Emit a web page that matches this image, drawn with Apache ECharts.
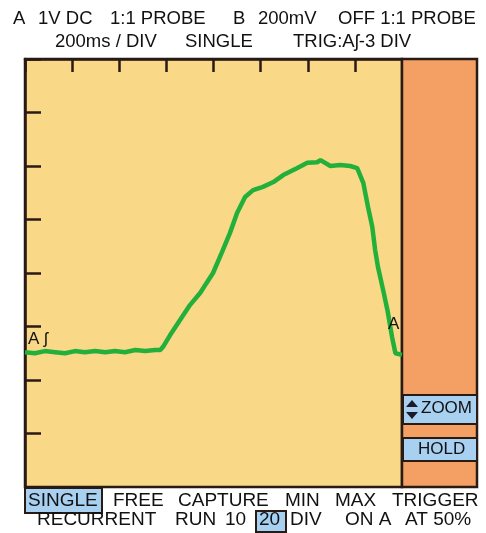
<!DOCTYPE html>
<html>
<head>
<meta charset="utf-8">
<script src="https://cdn.jsdelivr.net/npm/echarts@6/dist/echarts.min.js"></script>
<style>
  html, body { margin: 0; padding: 0; background: #fff; }
  #scope { width: 486px; height: 533px; }
</style>
</head>
<body>
<div id="scope"></div>
<script>
// time in divisions (200 ms / DIV), voltage in divisions
const traceX = [0, 0.21, 0.42, 0.64, 0.85, 1.06, 1.27, 1.49, 1.70, 1.91, 2.12, 2.34, 2.55, 2.76, 2.87,
  2.93, 3.08, 3.29, 3.50, 3.72, 3.85, 3.99, 4.18, 4.35, 4.50, 4.67, 4.84, 5.05, 5.27, 5.48, 5.77,
  5.99, 6.20, 6.27, 6.48, 6.69, 6.90, 7.05, 7.18, 7.28, 7.37, 7.43, 7.49, 7.60, 7.69, 7.79, 7.86, 8.0];
const traceY = [-1.48, -1.50, -1.46, -1.48, -1.50, -1.46, -1.48, -1.46, -1.48, -1.46, -1.48, -1.44, -1.46, -1.44, -1.44,
  -1.38, -1.16, -0.88, -0.60, -0.37, -0.19, 0, 0.39, 0.75, 1.12, 1.42, 1.55, 1.61, 1.70, 1.83, 1.96,
  2.06, 2.07, 2.11, 2.00, 2.02, 2.00, 1.96, 1.68, 1.23, 0.86, 0.43, 0.11, -0.32, -0.69, -1.20, -1.50, -1.53];

const headerRow1 = [['A', 13], ['1V DC', 38], ['1:1 PROBE', 110], ['B', 233], ['200mV', 258], ['OFF 1:1 PROBE', 338]];
const headerRow2 = [['200ms / DIV', 55], ['SINGLE', 185], ['TRIG:A\u0283-3 DIV', 293]];
const footRow1 = [['SINGLE', 28], ['FREE', 113], ['CAPTURE', 178], ['MIN', 285], ['MAX', 335], ['TRIGGER', 392]];
const footRow2 = [['RECURRENT', 37], ['RUN', 175], ['10', 225], ['20', 259], ['DIV', 290], ['ON A', 345], ['AT 50%', 405]];

const dark = '#2a1a14';
const yellow = '#f9d888';
const orange = '#f4a064';
const blue = '#a8d0f0';
const font = '"Liberation Sans", Arial, sans-serif';

const chart = echarts.init(document.getElementById('scope'), null, { renderer: 'canvas' });

function words(list, y, size) {
    return list.map(([t, x]) => ({
        type: 'text',
        left: x,
        top: y - size / 2,
        z: 10,
        style: { text: t, fontSize: size, fontFamily: font, fill: '#111' }
    }));
}

const G = { left: 25, top: 59, width: 377, height: 428 };

chart.setOption({
    animation: false,
    backgroundColor: '#fff',
    grid: {
        left: G.left, top: G.top, width: G.width, height: G.height,
        show: true,
        backgroundColor: yellow,
        borderColor: dark,
        borderWidth: 2.5
    },
    xAxis: {
        type: 'value',
        position: 'top',
        min: 0, max: 8, interval: 1,
        axisLine: { show: true, onZero: false, lineStyle: { color: dark, width: 2.5 } },
        axisTick: { show: true, inside: true, length: 13, lineStyle: { color: dark, width: 2.5 } },
        axisLabel: { show: false },
        splitLine: { show: false }
    },
    yAxis: {
        type: 'value',
        min: -4, max: 4, interval: 1,
        axisLine: { show: true, onZero: false, lineStyle: { color: dark, width: 2.5 } },
        axisTick: { show: true, inside: true, length: 16, lineStyle: { color: dark, width: 2.5 } },
        axisLabel: { show: false },
        splitLine: { show: false }
    },
    series: [{
        type: 'line',
        data: traceX.map((x, i) => [x, traceY[i]]),
        showSymbol: false,
        smooth: false,
        lineStyle: { color: '#22b03a', width: 4.5 },
        z: 5
    }],
    graphic: [
        // side panel
        { type: 'rect', shape: { x: 402, y: 59, width: 75, height: 428 },
          style: { fill: orange, stroke: dark, lineWidth: 2.5 }, z: 1 },
        { type: 'rect', shape: { x: 403, y: 395, width: 74, height: 29 },
          style: { fill: blue, stroke: dark, lineWidth: 2 }, z: 2 },
        { type: 'polygon', shape: { points: [[406, 407], [412, 400], [418, 407]] }, style: { fill: '#1a1a2a' }, z: 3 },
        { type: 'polygon', shape: { points: [[406, 412], [412, 419], [418, 412]] }, style: { fill: '#1a1a2a' }, z: 3 },
        { type: 'text', left: 421, top: 400, z: 3,
          style: { text: 'ZOOM', fontSize: 17, fontFamily: font, fill: '#111' } },
        { type: 'rect', shape: { x: 403, y: 438, width: 74, height: 23 },
          style: { fill: blue, stroke: dark, lineWidth: 2 }, z: 2 },
        { type: 'text', left: 418, top: 441, z: 3,
          style: { text: 'HOLD', fontSize: 17, fontFamily: font, fill: '#111' } },
        // trace markers
        { type: 'text', left: 28, top: 331, z: 6,
          style: { text: 'A \u0283', fontSize: 17, fontFamily: font, fill: '#111' } },
        { type: 'text', left: 388, top: 316, z: 6,
          style: { text: 'A', fontSize: 17, fontFamily: font, fill: '#111' } },
        // highlighted menu items
        { type: 'rect', shape: { x: 25, y: 488, width: 77, height: 25 },
          style: { fill: blue, stroke: dark, lineWidth: 2 }, z: 2 },
        { type: 'rect', shape: { x: 256, y: 511, width: 30, height: 21 },
          style: { fill: blue, stroke: dark, lineWidth: 2 }, z: 2 },
        ...words(headerRow1, 19, 18.5),
        ...words(headerRow2, 42, 18.5),
        ...words(footRow1, 501, 19),
        ...words(footRow2, 520, 19)
    ]
});

window.addEventListener('resize', () => {
    chart.resize();
});
</script>
</body>
</html>
